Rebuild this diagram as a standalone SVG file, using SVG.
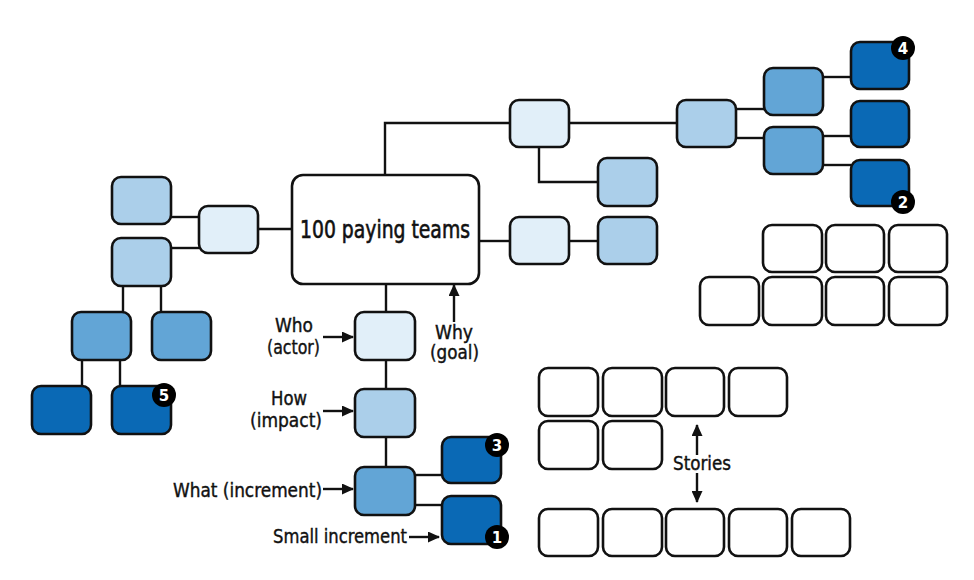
<svg xmlns="http://www.w3.org/2000/svg" width="974" height="580" viewBox="0 0 974 580">
<defs>
<style>
.n{stroke:#111;stroke-width:2.6}
.w{fill:#fff}
.l1{fill:#e1eff9}
.l2{fill:#abcfea}
.l3{fill:#62a5d6}
.l4{fill:#0a69b5}
.c{fill:none;stroke:#111;stroke-width:2.4}
.a{fill:none;stroke:#111;stroke-width:2.4;marker-end:url(#ah)}
.t{font-family:'Liberation Sans Narrow','DejaVu Sans Condensed','DejaVu Sans',sans-serif;fill:#111;stroke:#111;stroke-width:0.4;font-size:20px}
.b{font-family:'DejaVu Sans','Liberation Sans',sans-serif;font-weight:bold;fill:#fff;font-size:15px;text-anchor:middle}
</style>
<marker id="ah" viewBox="0 0 12 11" refX="11" refY="5.5" markerWidth="12" markerHeight="11" orient="auto" markerUnits="userSpaceOnUse">
<path d="M0,0 L12,5.5 L0,11 Z" fill="#111"/>
</marker>
</defs>

<g id="connectors">
<path class="c" d="M385,175 V123 H510"/>
<path class="c" d="M569,123 H677"/>
<path class="c" d="M539,147 V182 H598"/>
<path class="c" d="M479,241 H510"/>
<path class="c" d="M569,241 H598"/>
<path class="c" d="M736,109 H764"/>
<path class="c" d="M736,138 H764"/>
<path class="c" d="M823,77 H851"/>
<path class="c" d="M823,136 H851"/>
<path class="c" d="M823,165 H851"/>
<path class="c" d="M258,229 H292"/>
<path class="c" d="M171,217 H199"/>
<path class="c" d="M171,248 H199"/>
<path class="c" d="M123,286 V312"/>
<path class="c" d="M161,286 V312"/>
<path class="c" d="M82,360 V386"/>
<path class="c" d="M120,360 V386"/>
<path class="c" d="M386,284 V312"/>
<path class="c" d="M386,360 V389"/>
<path class="c" d="M386,437 V467"/>
<path class="c" d="M415,475 H442"/>
<path class="c" d="M415,505 H442"/>
<path class="a" d="M323,337 H353"/>
<path class="a" d="M323,411 H353"/>
<path class="a" d="M323,489 H353"/>
<path class="a" d="M409,537 H439"/>
<path class="a" d="M454,322 V285"/>
<path class="a" d="M697,455 V425"/>
<path class="a" d="M697,473 V502"/>
</g>

<g id="goal"><rect class="n w" x="292" y="175" width="187" height="109" rx="11"/>
<text class="t" x="300" y="238" style="font-size:25px;stroke-width:0.6" textLength="170" lengthAdjust="spacingAndGlyphs">100 paying teams</text></g>

<g id="n-top1"><rect class="n l1" x="510" y="100" width="59" height="47" rx="9"/></g>
<g id="n-top2"><rect class="n l2" x="598" y="158" width="59" height="48" rx="9"/></g>
<g id="n-mid1"><rect class="n l1" x="510" y="217" width="59" height="47" rx="9"/></g>
<g id="n-mid2"><rect class="n l2" x="598" y="217" width="59" height="47" rx="9"/></g>
<g id="n-tr1"><rect class="n l2" x="677" y="100" width="59" height="47" rx="9"/></g>
<g id="n-tr2"><rect class="n l3" x="764" y="68" width="59" height="47" rx="9"/></g>
<g id="n-tr3"><rect class="n l3" x="764" y="127" width="59" height="47" rx="9"/></g>
<g id="n-tr4"><rect class="n l4" x="851" y="42" width="58" height="47" rx="9"/>
<circle cx="903" cy="48" r="12" fill="#000"/><text class="b" x="903" y="54">4</text></g>
<g id="n-tr5"><rect class="n l4" x="851" y="101" width="58" height="46" rx="9"/></g>
<g id="n-tr6"><rect class="n l4" x="851" y="160" width="58" height="46" rx="9"/>
<circle cx="903" cy="202" r="12" fill="#000"/><text class="b" x="903" y="208">2</text></g>

<g id="n-l1"><rect class="n l1" x="199" y="206" width="59" height="47" rx="9"/></g>
<g id="n-l2"><rect class="n l2" x="112" y="177" width="59" height="47" rx="9"/></g>
<g id="n-l3"><rect class="n l2" x="112" y="238" width="59" height="48" rx="9"/></g>
<g id="n-l4"><rect class="n l3" x="72" y="312" width="59" height="48" rx="9"/></g>
<g id="n-l5"><rect class="n l3" x="152" y="312" width="59" height="48" rx="9"/></g>
<g id="n-l6"><rect class="n l4" x="32" y="386" width="59" height="48" rx="9"/></g>
<g id="n-l7"><rect class="n l4" x="112" y="386" width="59" height="48" rx="9"/>
<circle cx="164" cy="395" r="12" fill="#000"/><text class="b" x="164" y="401">5</text></g>

<g id="n-who"><rect class="n l1" x="355" y="312" width="60" height="48" rx="9"/></g>
<g id="n-how"><rect class="n l2" x="355" y="389" width="60" height="48" rx="9"/></g>
<g id="n-what"><rect class="n l3" x="355" y="467" width="60" height="48" rx="9"/></g>
<g id="n-inc3"><rect class="n l4" x="442" y="437" width="59" height="46" rx="9"/>
<circle cx="497" cy="445" r="12" fill="#000"/><text class="b" x="497" y="451">3</text></g>
<g id="n-inc1"><rect class="n l4" x="442" y="496" width="59" height="48" rx="9"/>
<circle cx="497" cy="537" r="12" fill="#000"/><text class="b" x="497" y="543">1</text></g>

<g id="labels">
<text class="t" x="275" y="332" textLength="38" lengthAdjust="spacingAndGlyphs">Who</text>
<text class="t" x="267" y="354" textLength="53" lengthAdjust="spacingAndGlyphs">(actor)</text>
<text class="t" x="435" y="339" textLength="38" lengthAdjust="spacingAndGlyphs">Why</text>
<text class="t" x="430" y="359" textLength="49" lengthAdjust="spacingAndGlyphs">(goal)</text>
<text class="t" x="271" y="405" textLength="36" lengthAdjust="spacingAndGlyphs">How</text>
<text class="t" x="250" y="427" textLength="72" lengthAdjust="spacingAndGlyphs">(impact)</text>
<text class="t" x="173" y="497" textLength="149" lengthAdjust="spacingAndGlyphs">What (increment)</text>
<text class="t" x="273" y="543" textLength="134" lengthAdjust="spacingAndGlyphs">Small increment</text>
<text class="t" x="673" y="470" textLength="58" lengthAdjust="spacingAndGlyphs">Stories</text>
</g>

<g id="backlog-top">
<rect class="n w" x="763" y="225" width="59" height="47" rx="9"/>
<rect class="n w" x="826" y="225" width="58" height="47" rx="9"/>
<rect class="n w" x="889" y="225" width="58" height="47" rx="9"/>
<rect class="n w" x="700" y="277" width="59" height="48" rx="9"/>
<rect class="n w" x="763" y="277" width="59" height="48" rx="9"/>
<rect class="n w" x="826" y="277" width="58" height="48" rx="9"/>
<rect class="n w" x="889" y="277" width="58" height="48" rx="9"/>
</g>

<g id="stories">
<rect class="n w" x="539" y="368" width="59" height="48" rx="9"/>
<rect class="n w" x="603" y="368" width="59" height="48" rx="9"/>
<rect class="n w" x="666" y="368" width="58" height="48" rx="9"/>
<rect class="n w" x="729" y="368" width="58" height="48" rx="9"/>
<rect class="n w" x="539" y="421" width="59" height="48" rx="9"/>
<rect class="n w" x="603" y="421" width="59" height="48" rx="9"/>
<rect class="n w" x="539" y="509" width="59" height="47" rx="9"/>
<rect class="n w" x="603" y="509" width="59" height="47" rx="9"/>
<rect class="n w" x="666" y="509" width="58" height="47" rx="9"/>
<rect class="n w" x="729" y="509" width="58" height="47" rx="9"/>
<rect class="n w" x="792" y="509" width="58" height="47" rx="9"/>
</g>
</svg>
